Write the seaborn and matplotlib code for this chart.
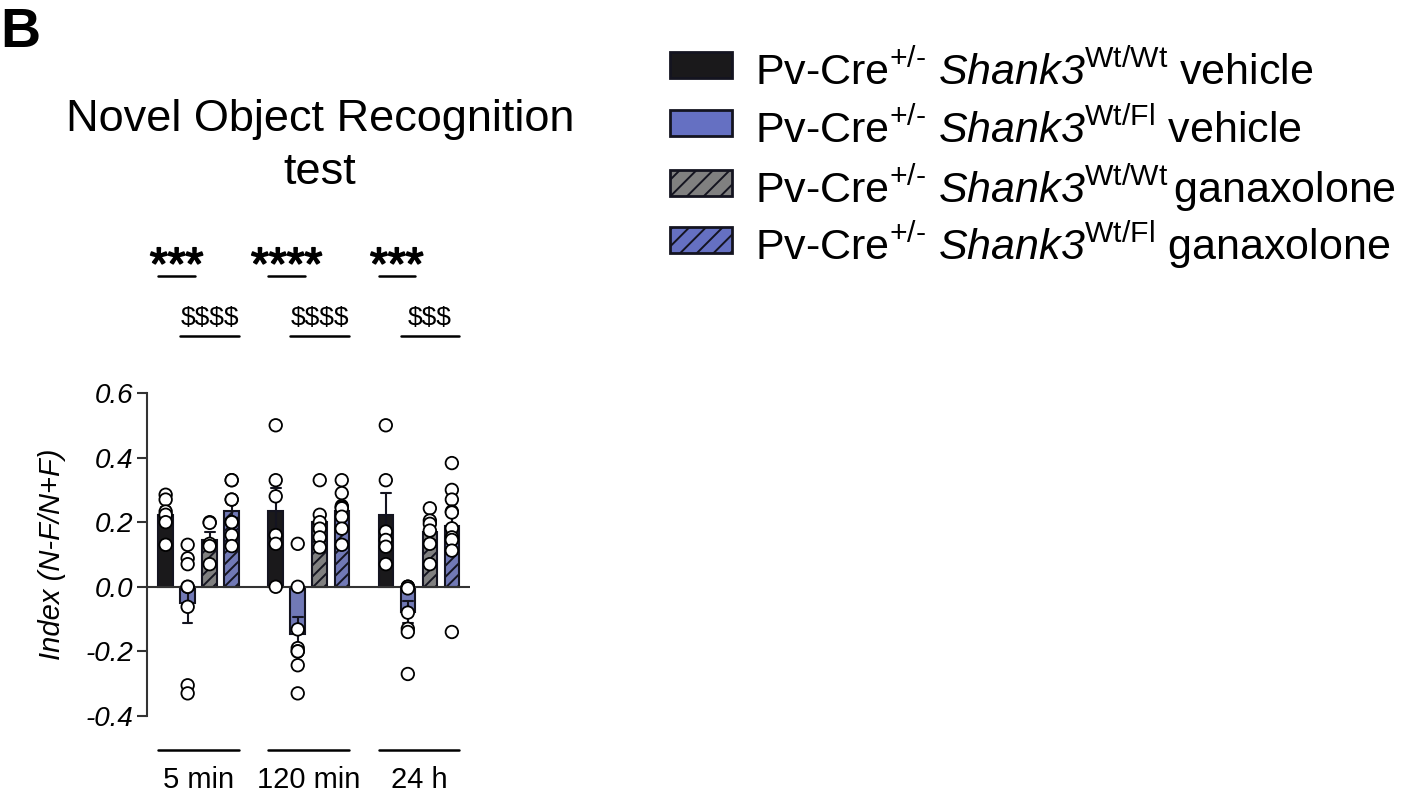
import numpy as np
import pandas as pd
import matplotlib
matplotlib.use("Agg")
import matplotlib.pyplot as plt
import matplotlib.patheffects as pe
import seaborn as sns
from matplotlib.patches import Rectangle

# ---------------- data ----------------
timepoints = ["5 min", "120 min", "24 h"]
groups = ["wt_vehicle", "fl_vehicle", "wt_ganaxolone", "fl_ganaxolone"]
HY = "\u2010"
legend_labels = [
    r"Pv-Cre$^{\mathsf{+/" + HY + r"}}$ $\mathrm{Shank3}^{\mathsf{Wt/Wt}}$ vehicle",
    r"Pv-Cre$^{\mathsf{+/" + HY + r"}}$ $\mathrm{Shank3}^{\mathsf{Wt/Fl}}$ vehicle",
    r"Pv-Cre$^{\mathsf{+/" + HY + r"}}$ $\mathrm{Shank3}^{\mathsf{Wt/Wt}}\,$ganaxolone",
    r"Pv-Cre$^{\mathsf{+/" + HY + r"}}$ $\mathrm{Shank3}^{\mathsf{Wt/Fl}}$ ganaxolone",
]

# individual animals, one list per time point (5 min, 120 min, 24 h)
wt_vehicle = [
    [0.285, 0.27, 0.233, 0.223, 0.20, 0.13],
    [0.50, 0.33, 0.28, 0.16, 0.133, 0.0],
    [0.50, 0.33, 0.171, 0.145, 0.124, 0.07],
]
fl_vehicle = [
    [0.13, 0.088, 0.07, 0.0, 0.0, -0.062, -0.305, -0.33],
    [0.133, 0.0, -0.132, -0.19, -0.20, -0.20, -0.243, -0.33],
    [0.0, 0.0, 0.0, -0.005, -0.08, -0.13, -0.14, -0.27],
]
wt_ganaxolone = [
    [0.20, 0.198, 0.133, 0.126, 0.07],
    [0.33, 0.223, 0.20, 0.18, 0.153, 0.122],
    [0.243, 0.205, 0.195, 0.174, 0.133, 0.07],
]
fl_ganaxolone = [
    [0.33, 0.33, 0.27, 0.27, 0.20, 0.20, 0.16, 0.126],
    [0.33, 0.29, 0.25, 0.246, 0.243, 0.217, 0.18, 0.13],
    [0.383, 0.30, 0.27, 0.233, 0.23, 0.181, 0.153, 0.145, 0.112, -0.14],
]

star_labels = ["***", "****", "***"]
dollar_labels = ["$$$$", "$$$$", "$$$"]
yticks = [-0.4, -0.2, 0.0, 0.2, 0.4, 0.6]

rows = []
for g, series in zip(groups, [wt_vehicle, fl_vehicle, wt_ganaxolone, fl_ganaxolone]):
    for t, vals in zip(timepoints, series):
        for v in vals:
            rows.append({"time": t, "group": g, "index": v})
df = pd.DataFrame(rows)

# ---------------- style ----------------
sns.set_style("ticks")
plt.rcParams["font.family"] = ["Liberation Sans", "DejaVu Sans"]
plt.rcParams["mathtext.fontset"] = "custom"
plt.rcParams["mathtext.rm"] = "Liberation Sans:italic"
plt.rcParams["mathtext.it"] = "Liberation Sans:italic"
plt.rcParams["mathtext.sf"] = "Liberation Sans"
plt.rcParams["mathtext.bf"] = "Liberation Sans:bold"
plt.rcParams["axes.unicode_minus"] = False
plt.rcParams["hatch.linewidth"] = 1.4
for k in ["text.color", "axes.labelcolor", "xtick.color", "ytick.color"]:
    plt.rcParams[k] = "black"

BLACK = "#1a191b"
BLUE = "#6570c2"
GRAY = "#808080"
EDGE = "#141420"
palette = {"wt_vehicle": BLACK, "fl_vehicle": BLUE, "wt_ganaxolone": GRAY, "fl_ganaxolone": BLUE}
hatches = ["", "", "///", "///"]

W, H = 1417, 792
fig = plt.figure(figsize=(W / 100, H / 100), dpi=100)
ax = fig.add_axes([0.1037, 0.0960, 0.228, 0.4078])

WIDTH = 0.8
GAP = 0.34
sns.barplot(data=df, x="time", y="index", hue="group", order=timepoints,
            hue_order=groups, palette=palette, errorbar="se", capsize=0.35,
            err_kws={"linewidth": 1.5, "color": EDGE}, width=WIDTH, gap=GAP,
            edgecolor=EDGE, linewidth=1.5, ax=ax, legend=False, zorder=2)
for cont, h in zip(ax.containers, hatches):
    for bar in cont:
        bar.set_hatch(h)

sns.stripplot(data=df, x="time", y="index", hue="group", order=timepoints,
              hue_order=groups, dodge=True, jitter=False,
              palette={g: "white" for g in groups},
              size=9, edgecolor="black", linewidth=1.3, ax=ax, legend=False,
              zorder=4)

ax.axhline(0, color="#333333", lw=1.5, zorder=3)
ax.set_xlim(-0.47, 2.465)
ax.set_ylim(-0.4, 0.6)
ax.spines[["top", "right", "bottom"]].set_visible(False)
ax.spines["left"].set_linewidth(1.5)
ax.spines["left"].set_color("#333333")
ax.spines["left"].set_bounds(-0.4, 0.6)
ax.set_yticks(yticks, [f"{v:.1f}" for v in yticks], fontsize=20, style="italic")
ax.tick_params(axis="y", length=7, width=1.5, color="#333333", pad=3)
ax.set_xticks(range(len(timepoints)), timepoints, fontsize=21)
ax.tick_params(axis="x", length=0, pad=36)
ax.set_xlabel("")
ax.set_ylabel("Index (N-F/N+F)", fontsize=21, style="italic")
ax.yaxis.set_label_coords(-0.25, 0.5)

# geometry of dodged bars (derived from category index)
slot = WIDTH / len(groups)
hw = slot * (1 - GAP) / 2
def bar_center(i, k):
    return i + (k - (len(groups) - 1) / 2) * slot

for i in range(len(timepoints)):
    ax.plot([bar_center(i, 0) - hw, bar_center(i, 3) + hw], [-0.505, -0.505],
            color="black", lw=1.8, clip_on=False)
    x0, x1 = bar_center(i, 0) - hw, bar_center(i, 1) + hw
    ax.plot([x0, x1], [0.961, 0.961], color="black", lw=1.8, clip_on=False)
    ax.text((x0 + x1) / 2, 0.952, star_labels[i], ha="center", va="baseline",
            fontsize=33, clip_on=False,
            path_effects=[pe.withStroke(linewidth=1.2, foreground="black")])
    x0, x1 = bar_center(i, 1) - hw, bar_center(i, 3) + hw
    ax.plot([x0, x1], [0.775, 0.775], color="black", lw=1.8, clip_on=False)
    ax.text((x0 + x1) / 2, 0.81, dollar_labels[i].replace("$", r"\$"), ha="center",
            va="baseline", fontsize=19, clip_on=False)

fig.text(320 / W, 1 - 146 / H, "Novel Object Recognition\ntest", ha="center",
         va="center", fontsize=32.5, linespacing=1.38)
fig.text(0.0, 1 - 7 / H, "B", ha="left", va="top", fontsize=40, fontweight="bold")

# legend, laid out row by row
row_centers = [65, 123, 183, 240]
for g, h, lab, yc in zip(groups, hatches, legend_labels, row_centers):
    fig.patches.append(Rectangle((670 / W, 1 - (yc + 13) / H), 62 / W, 26 / H,
                                 transform=fig.transFigure, facecolor=palette[g],
                                 edgecolor=EDGE, linewidth=2,
                                 hatch=("//" if h else "")))
    fig.text(755 / W, 1 - (yc + 20) / H, lab, ha="left", va="baseline", fontsize=31)

fig.savefig("out.png", dpi=100)
